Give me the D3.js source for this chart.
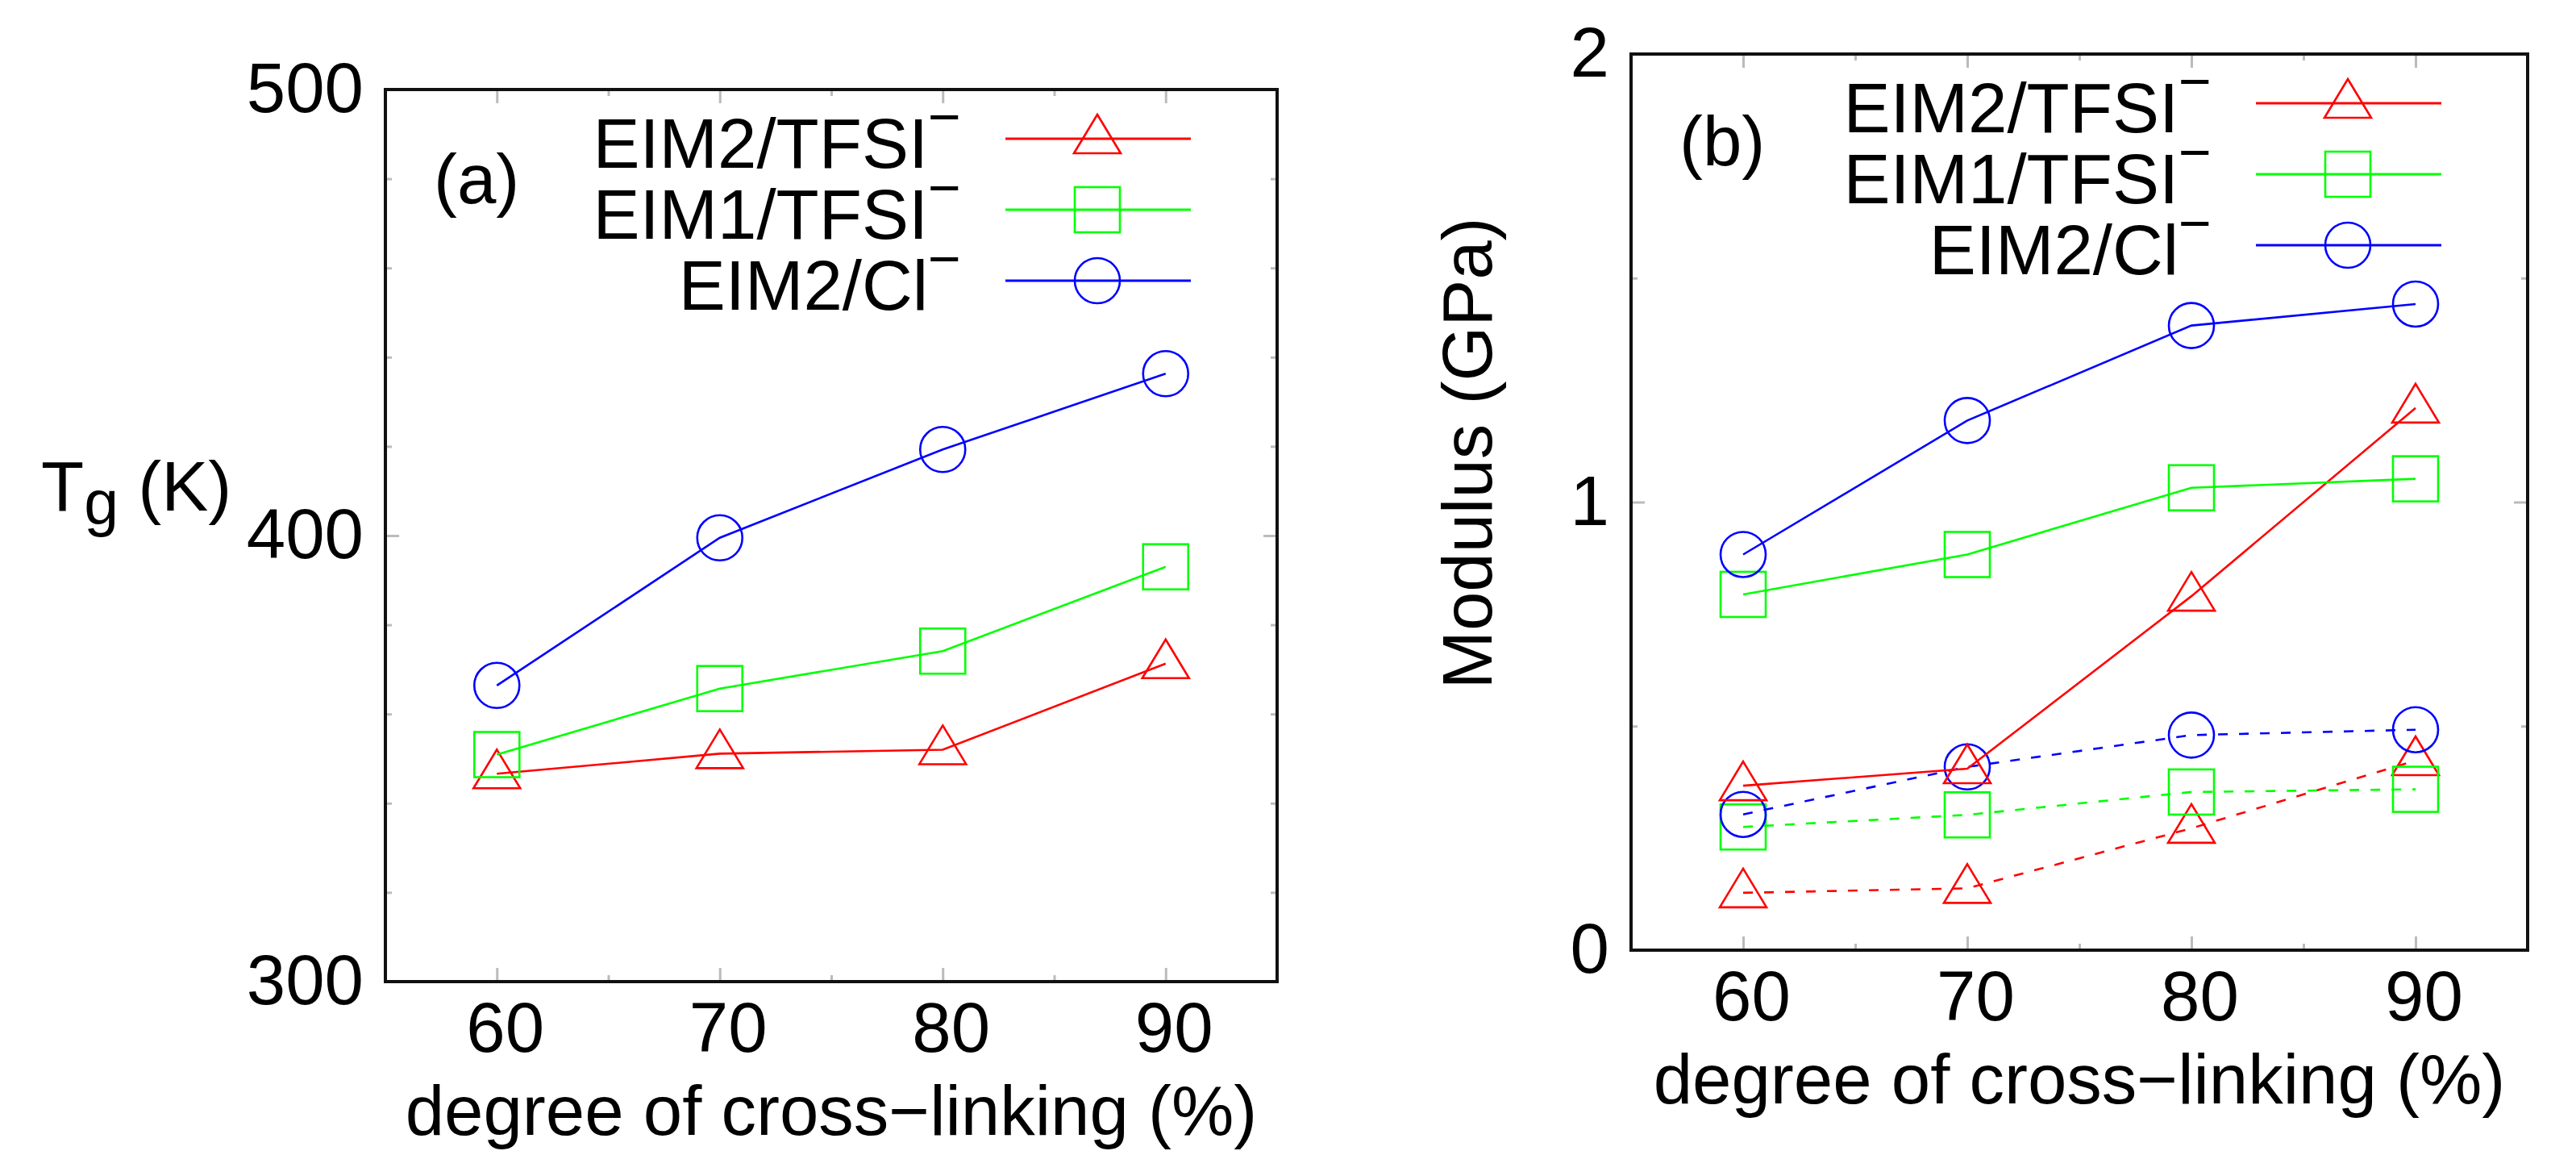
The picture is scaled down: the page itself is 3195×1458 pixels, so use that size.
<!DOCTYPE html>
<html>
<head>
<meta charset="utf-8">
<script src="https://cdn.jsdelivr.net/npm/d3@7"></script>
<style>
  body { margin: 0; background: #fff; }
  svg text { font-family: "Liberation Sans", Arial, Helvetica, sans-serif; fill: #000; }
</style>
</head>
<body>
<svg id="chart" width="3195" height="1458"></svg>
<script>
// data
const crossLinking = [60, 70, 80, 90]
const seriesNames = ['EIM2/TFSI', 'EIM1/TFSI', 'EIM2/Cl']

// (a) glass transition temperature, K
const tgEIM2TFSI = [346.6, 351.1, 352.0, 371.3]
const tgEIM1TFSI = [350.9, 365.7, 374.1, 393.0]
const tgEIM2Cl = [366.4, 399.5, 419.3, 436.3]

// (b) modulus, GPa  (solid lines)
const modEIM2TFSI = [0.367, 0.405, 0.79, 1.21]
const modEIM1TFSI = [0.794, 0.883, 1.032, 1.052]
const modEIM2Cl = [0.883, 1.182, 1.394, 1.442]
// (b) modulus, GPa  (dashed lines)
const modEIM2TFSIdash = [0.128, 0.138, 0.272, 0.423]
const modEIM1TFSIdash = [0.275, 0.302, 0.353, 0.359]
const modEIM2Cldash = [0.303, 0.409, 0.480, 0.492]

const xTickLabels = [60, 70, 80, 90]
const tgTickLabels = [300, 400, 500]
const modTickLabels = [0, 1, 2]

const svg = d3.select('#chart')
const colors = ['#ff0000', '#00ff00', '#0000ff']
const FS = 87

function marker(sel, i, cx, cy, color) {
	if (i === 0) {
		sel.append('path').attr('d', 'M0,-30L29,18L-29,18Z')
			.attr('transform', `translate(${cx},${cy})`)
			.attr('fill', 'none').attr('stroke', color).attr('stroke-width', 2.6)
	} else if (i === 1) {
		sel.append('rect').attr('x', cx - 28).attr('y', cy - 28)
			.attr('width', 56).attr('height', 56)
			.attr('fill', 'none').attr('stroke', color).attr('stroke-width', 2.6)
	} else {
		sel.append('circle').attr('cx', cx).attr('cy', cy).attr('r', 28)
			.attr('fill', 'none').attr('stroke', color).attr('stroke-width', 2.6)
	}
}

function drawPanel(cfg) {
	const g = svg.append('g').attr('transform', `translate(${cfg.left},${cfg.top})`)
	const x = d3.scaleLinear().domain([55, 95]).range([0, cfg.w])
	const y = d3.scaleLinear().domain(cfg.yDomain).range([cfg.h, 0])
	const fmt = d3.format('d')

	function ticks(axis, transform, labels) {
		const a = g.append('g').attr('transform', transform).call(axis.tickFormat(fmt))
		a.attr('font-size', FS).attr('font-family', null)
		a.select('.domain').remove()
		a.selectAll('line').attr('stroke', '#bbb').attr('stroke-width', 3)
		if (!labels) a.selectAll('text').remove()
		return a
	}

	const xMinor = [65, 75, 85]
	// major + minor ticks, mirrored on all four sides
	const bx = ticks(d3.axisBottom(x).tickValues(xTickLabels).tickSize(-17).tickPadding(25), `translate(0,${cfg.h})`, true)
	bx.selectAll('text').attr('dx', 10)
	ticks(d3.axisBottom(x).tickValues(xMinor).tickSize(-8), `translate(0,${cfg.h})`, false)
	ticks(d3.axisTop(x).tickValues(xTickLabels).tickSize(-17), 'translate(0,0)', false)
	ticks(d3.axisTop(x).tickValues(xMinor).tickSize(-8), 'translate(0,0)', false)

	ticks(d3.axisLeft(y).tickValues(cfg.yTicks).tickSize(-17).tickPadding(27), 'translate(0,0)', true)
	ticks(d3.axisLeft(y).tickValues(cfg.yMinor).tickSize(-8), 'translate(0,0)', false)
	ticks(d3.axisRight(y).tickValues(cfg.yTicks).tickSize(-17), `translate(${cfg.w},0)`, false)
	ticks(d3.axisRight(y).tickValues(cfg.yMinor).tickSize(-8), `translate(${cfg.w},0)`, false)

	const line = d3.line().x(d => x(d[0])).y(d => y(d[1]))

	cfg.series.forEach(s => {
		const pts = crossLinking.map((c, k) => [c, s.values[k]])
		g.append('path').datum(pts).attr('d', line)
			.attr('fill', 'none').attr('stroke', colors[s.idx]).attr('stroke-width', 2.6)
			.attr('stroke-dasharray', s.dashed ? '12,14' : null)
		pts.forEach(p => marker(g, s.idx, x(p[0]), y(p[1]), colors[s.idx]))
	})

	// legend
	seriesNames.forEach((name, i) => {
		const ly = 61 + 88 * i
		const t = g.append('text').attr('x', cfg.w - 392).attr('y', ly + 36)
			.attr('text-anchor', 'end').attr('font-size', FS)
		t.append('tspan').text(name)
		t.append('tspan').attr('font-size', 70).attr('dy', -39).text('\u2212')
		g.append('line').attr('x1', cfg.w - 337).attr('x2', cfg.w - 107)
			.attr('y1', ly).attr('y2', ly)
			.attr('stroke', colors[i]).attr('stroke-width', 2.8)
		marker(g, i, cfg.w - 223, ly, colors[i])
	})

	g.append('text').attr('x', 60).attr('y', cfg.labelY)
		.attr('font-size', FS).text(cfg.label)

	g.append('text').attr('x', cfg.w / 2).attr('y', cfg.h + 190)
		.attr('text-anchor', 'middle').attr('font-size', FS)
		.text('degree of cross\u2212linking (%)')

	g.append('rect').attr('width', cfg.w).attr('height', cfg.h)
		.attr('fill', 'none').attr('stroke', '#111').attr('stroke-width', 4)
}

drawPanel({
	left: 478, top: 111, w: 1106, h: 1106,
	yDomain: [300, 500],
	yTicks: tgTickLabels,
	yMinor: d3.range(320, 500, 20).filter(v => v !== 400),
	label: '(a)', labelY: 141,
	series: [
		{ idx: 0, values: tgEIM2TFSI },
		{ idx: 1, values: tgEIM1TFSI },
		{ idx: 2, values: tgEIM2Cl }
	]
})

drawPanel({
	left: 2023, top: 67, w: 1112, h: 1111,
	yDomain: [0, 2],
	yTicks: modTickLabels,
	yMinor: [0.5, 1.5],
	label: '(b)', labelY: 138,
	series: [
		{ idx: 0, values: modEIM2TFSIdash, dashed: true },
		{ idx: 1, values: modEIM1TFSIdash, dashed: true },
		{ idx: 2, values: modEIM2Cldash, dashed: true },
		{ idx: 0, values: modEIM2TFSI },
		{ idx: 1, values: modEIM1TFSI },
		{ idx: 2, values: modEIM2Cl }
	]
})

// y axis titles
const tg = svg.append('text').attr('x', 51).attr('y', 633).attr('font-size', FS)
tg.append('tspan').text('T')
tg.append('tspan').attr('font-size', 77).attr('dy', 17).text('g')
tg.append('tspan').attr('dy', -17).text(' (K)')

svg.append('text').attr('transform', 'translate(1850,562) rotate(-90)')
	.attr('text-anchor', 'middle').attr('font-size', FS)
	.text('Modulus (GPa)')
</script>
</body>
</html>
